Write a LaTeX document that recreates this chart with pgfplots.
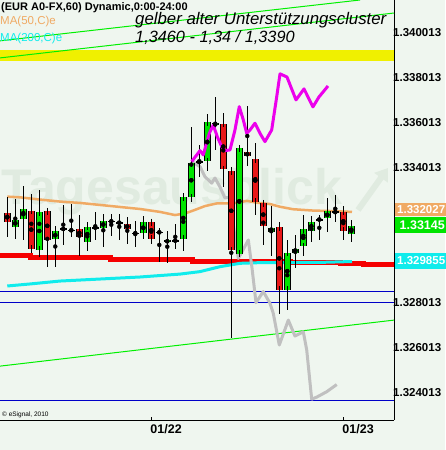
\documentclass[border=0pt]{standalone}
\usepackage{pgfplots}
\usepackage{pgfplotstable}
\pgfplotsset{compat=1.18}
\usetikzlibrary{arrows.meta}
\usepackage{fontspec}
\setmainfont{Liberation Sans}
\definecolor{bg}{RGB}{239,246,239}
\definecolor{wm}{RGB}{224,235,224}
\definecolor{cgreen}{RGB}{0,228,0}
\definecolor{cred}{RGB}{232,24,24}
\definecolor{maor}{RGB}{240,170,100}
\definecolor{macy}{RGB}{16,236,236}
\definecolor{mag}{RGB}{236,0,236}
\definecolor{gry}{RGB}{192,192,192}
\definecolor{ylw}{RGB}{240,240,0}
\definecolor{chan}{RGB}{0,240,0}
\definecolor{dblue}{RGB}{0,0,200}
\definecolor{supp}{RGB}{245,0,0}
% candles: x = hourly bar index (01/22 00:00 = 18)
\pgfplotstableread{
x high low top bot
0 1.33272 1.33094 1.33201 1.33160
3 1.33284 1.33020 1.33211 1.33042
5 1.33209 1.32960 1.33207 1.33078
9 1.33189 1.33008 1.33127 1.33095
15 1.33183 1.33061 1.33153 1.33127
18 1.33174 1.33061 1.33159 1.33086
27 1.33643 1.33314 1.33596 1.33394
28 1.33403 1.32641 1.33386 1.33034
30 1.33676 1.33409 1.33470 1.33453
31 1.33512 1.33190 1.33439 1.33250
32 1.33257 1.33057 1.33242 1.33143
34 1.33158 1.32748 1.33137 1.32859
42 1.33230 1.33079 1.33205 1.33120
}\redtab
\pgfplotstableread{
x high low top bot
1 1.33265 1.33086 1.33168 1.33138
2 1.33320 1.33079 1.33217 1.33171
4 1.33302 1.33002 1.33204 1.33037
6 1.33141 1.32960 1.33119 1.33082
10 1.33159 1.33031 1.33140 1.33073
12 1.33198 1.33049 1.33164 1.33135
17 1.33186 1.33083 1.33159 1.33109
20 1.33120 1.32978 1.33078 1.33070
22 1.33290 1.33031 1.33269 1.33086
23 1.33581 1.33250 1.33421 1.33269
25 1.33643 1.33388 1.33603 1.33430
26 1.33715 1.33480 1.33599 1.33591
29 1.33490 1.33008 1.33488 1.33017
33 1.33230 1.33008 1.33135 1.33116
35 1.33079 1.32767 1.33024 1.32859
36 1.33101 1.32953 1.33042 1.33024
37 1.33190 1.33008 1.33127 1.33052
38 1.33186 1.33071 1.33162 1.33120
40 1.33265 1.33116 1.33208 1.33176
43 1.33168 1.33071 1.33144 1.33109
}\greentab
\pgfplotstableread{
x high low top bot
7 1.33236 1.33058 1.33133 1.33126
8 1.33239 1.33091 1.33127 1.33120
11 1.33205 1.33079 1.33139 1.33132
13 1.33196 1.33098 1.33166 1.33159
14 1.33196 1.33079 1.33159 1.33153
16 1.33164 1.33049 1.33113 1.33107
19 1.33135 1.32981 1.33118 1.33111
21 1.33150 1.33039 1.33081 1.33074
24 1.33501 1.33361 1.33430 1.33423
39 1.33188 1.33079 1.33174 1.33167
41 1.33279 1.33160 1.33207 1.33200
}\dojitab
\pgfplotsset{
  wick/.style={only marks, mark=none, error bars/.cd, y dir=both, y explicit,
    error mark=none, error bar style={black, line width=1pt}},
  bodyout/.style={only marks, mark=none, error bars/.cd, y dir=both, y explicit,
    error mark=none, error bar style={black, line width=7pt}},
  bodyin/.style={only marks, mark=none, error bars/.cd, y dir=both, y explicit,
    error mark=-, error mark options={black, line width=1pt, mark size=3.5pt},
    error bar style={#1, line width=5pt}},
}
\newcommand{\candles}[2]{%
  \addplot[wick] table[x=x, y expr={(\thisrow{high}+\thisrow{low})/2}, y error expr={(\thisrow{high}-\thisrow{low})/2}] {#1};
  \addplot[bodyout] table[x=x, y expr={(\thisrow{top}+\thisrow{bot})/2}, y error expr={(\thisrow{top}-\thisrow{bot})/2}] {#1};
  \addplot[bodyin=#2] table[x=x, y expr={(\thisrow{top}+\thisrow{bot})/2}, y error expr={(\thisrow{top}-\thisrow{bot})/2}] {#1};
}
\begin{document}
\begin{tikzpicture}
\fill[bg] (0,-30pt) rectangle (445pt,420pt);
\node[anchor=base west, text=wm, font=\bfseries\fontsize{50}{50}\selectfont, inner sep=0pt] at (1pt,215pt) {Tagesausblick};
\draw[wm, line width=6pt, -{Triangle[length=12pt,width=16pt]}] (358pt,210pt) -- (388pt,252pt);
\begin{axis}[
  scale only axis, width=394pt, height=420pt,
  xmin=-0.91, xmax=48.34, ymin=1.32277, ymax=1.34148,
  clip=false,
  axis x line*=bottom, axis y line*=right,
  axis line style={black, line width=1pt, -},
  xtick={18,42}, xticklabels={01/22,01/23},
  xticklabel style={anchor=north west, inner sep=0pt, xshift=-1pt, yshift=-4pt,
    font=\bfseries\fontsize{12.5}{12.5}\selectfont},
  xtick style={black, line width=0.8pt},
  major tick length=3pt,
  ytick={1.324013,1.326013,1.328013,1.334013,1.336013,1.338013,1.340013},
  yticklabels={1.324013,1.326013,1.328013,1.334013,1.336013,1.338013,1.340013},
  yticklabel style={anchor=west, inner sep=0pt, xshift=-1pt,
    font=\bfseries\fontsize{11.5}{11.5}\selectfont},
  ytick style={draw=none},
]
% yellow support cluster band
\addplot[fill=ylw, draw=none] coordinates {(-0.91,1.33877) (48.34,1.33877) (48.34,1.33926) (-0.91,1.33926)};
% horizontal blue lines
\addplot[dblue, line width=1pt] coordinates {(-0.91,1.32849) (48.34,1.32849)};
\addplot[dblue, line width=1pt] coordinates {(-0.91,1.32801) (48.34,1.32801)};
\addplot[dblue, line width=1pt] coordinates {(-0.91,1.32366) (48.34,1.32366)};
% green channel
\addplot[chan, line width=1pt] coordinates {(-0.91,1.33966) (44.09,1.34148)};
\addplot[chan, line width=1pt] coordinates {(-0.91,1.33890) (48.34,1.34090)};
\addplot[chan, line width=1pt] coordinates {(-0.91,1.32517) (48.34,1.32722)};
% red support line
\addplot[supp, line width=5pt, const plot] coordinates {(-0.91,1.33008) (2.84,1.33003) (7.84,1.32999) (12.96,1.32994) (17.84,1.32990) (23.21,1.32985) (29.09,1.32981) (35.34,1.32977) (41.59,1.32972) (44.5,1.32968) (48.34,1.32968)};
% MA 200
\addplot[macy, line width=3pt] coordinates {(0,1.32874) (2.84,1.32883) (6.59,1.32896) (11.59,1.32905) (16.59,1.32914) (21.59,1.32927) (24.09,1.32938) (26.59,1.32960) (29.09,1.32975) (31.59,1.32978) (39.09,1.32979) (43.09,1.32983)};
% MA 50
\addplot[maor, line width=2.5pt] coordinates {(0,1.33272) (1.59,1.33269) (4.09,1.33259) (6.59,1.33250) (9.09,1.33244) (11.59,1.33235) (14.09,1.33226) (16.59,1.33217) (19.09,1.33204) (20.96,1.33190) (22.21,1.33197) (23.46,1.33213) (24.71,1.33230) (26.21,1.33242) (28.21,1.33242) (29.96,1.33253) (31.21,1.33245) (32.84,1.33239) (34.09,1.33227) (35.71,1.33216) (38.21,1.33210) (40.34,1.33208) (43.09,1.33204)};
% grey projection
\addplot[gry, line width=3pt, line join=round] coordinates {(23.05,1.33428) (24.09,1.33406) (24.71,1.33361) (25.55,1.33332) (25.96,1.33355) (26.59,1.33315) (27.21,1.33266) (27.84,1.33270) (28.34,1.33123) (28.88,1.32997) (29.46,1.33034) (30.13,1.33079) (30.59,1.32954) (31.09,1.32800) (32.0,1.32849) (32.84,1.32797) (33.25,1.32752) (34.0,1.32611) (35.13,1.32722) (35.96,1.32651) (37.0,1.32670) (37.43,1.32589) (38.05,1.32370) (38.68,1.32379) (39.93,1.32403) (41.18,1.32435)};
% candles
\candles{\redtab}{cred}
\candles{\greentab}{cgreen}
\candles{\dojitab}{black}
% magenta projection
\addplot[mag, line width=3pt, line join=round] coordinates {(23.05,1.33428) (24.09,1.33477) (24.50,1.33458) (25.25,1.33554) (25.75,1.33591) (26.25,1.33539) (26.80,1.33495) (27.21,1.33477) (27.84,1.33480) (28.46,1.33569) (29.0,1.33673) (29.5,1.33614) (29.93,1.33554) (30.34,1.33569) (30.96,1.33599) (31.59,1.33554) (32.21,1.33517) (33.05,1.33569) (33.68,1.33717) (34.09,1.33819) (34.96,1.33805) (36.09,1.33703) (37.09,1.33752) (38.21,1.33672) (38.96,1.33716) (40.09,1.33765)};
\end{axis}
% price boxes on the right scale
\node[fill=maor, text=white, anchor=west, inner sep=0pt, minimum height=13pt, minimum width=52pt, font=\bfseries\fontsize{11.5}{11.5}\selectfont] at (395pt,210pt) {1.332027\hfill};
\node[fill=cgreen, text=white, anchor=west, inner sep=0pt, minimum height=16pt, minimum width=52pt, font=\bfseries\fontsize{12.5}{12.5}\selectfont] at (395pt,195pt) {\,1.33145\hfill};
\node[fill=macy, text=white, anchor=west, inner sep=0pt, minimum height=16pt, minimum width=52pt, font=\bfseries\fontsize{11.5}{11.5}\selectfont] at (395pt,159pt) {1.329855\hfill};
% titles
\node[anchor=north west, inner sep=0pt, font=\bfseries\fontsize{11}{11}\selectfont] at (1pt,418pt) {(EUR A0-FX,60) Dynamic,0:00-24:00};
\node[anchor=west, inner sep=0pt, text=maor, font=\fontsize{11.5}{11.5}\selectfont] at (0pt,398pt) {MA(50,C)e};
\node[anchor=west, inner sep=0pt, text=macy, font=\fontsize{11.5}{11.5}\selectfont] at (0pt,381pt) {MA(200,C)e};
\node[anchor=base west, inner sep=0pt, font=\itshape\fontsize{16.8}{16.8}\selectfont] at (135pt,395pt) {gelber alter Unterstützungscluster};
\node[anchor=base west, inner sep=0pt, font=\itshape\fontsize{16.3}{16.3}\selectfont] at (135pt,377.5pt) {1,3460 - 1,34 / 1,3390};
\node[anchor=base west, inner sep=0pt, font=\fontsize{6.5}{6.5}\selectfont] at (2pt,4pt) {\textcopyright\ eSignal, 2010};
\pgfresetboundingbox
\path (0,-30pt) rectangle (445pt,420pt);
\end{tikzpicture}
\end{document}
